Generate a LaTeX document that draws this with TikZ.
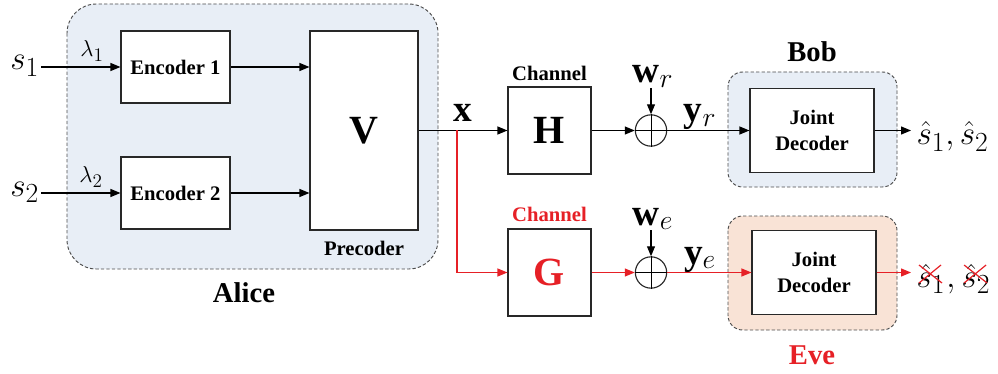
\documentclass[tikz,border=0pt]{standalone}
\usepackage{fontspec}
\setmainfont{Liberation Serif}[BoldFont={Liberation Serif Bold}]
\usetikzlibrary{arrows.meta,calc}
\definecolor{evered}{RGB}{230,32,38}
\definecolor{alicebg}{RGB}{232,238,246}
\definecolor{evebg}{RGB}{249,227,214}
\definecolor{edge}{RGB}{40,40,40}

\begin{document}
\begin{tikzpicture}[x=0.75pt,y=-0.75pt,
  >={Triangle[length=7.5pt,width=6pt]},
  line width=0.9pt,
  blk/.style={draw=edge, fill=white, inner sep=0pt, line width=0.85pt},
  group/.style={draw=black!70, line width=0.7pt, dash pattern=on 2.5pt off 1.6pt},
  lbl/.style={font=\bfseries\fontsize{15.5}{19.5}\selectfont},
  big/.style={font=\bfseries\fontsize{21.5}{24}\selectfont},
  huge/.style={font=\bfseries\fontsize{30}{32}\selectfont},
  mth/.style={font=\fontsize{28}{30}\selectfont, inner sep=1pt},
  sml/.style={font=\fontsize{19}{21}\selectfont, inner sep=1pt},
  adder/.style={circle, draw=edge, fill=white, minimum size=23.5pt, inner sep=0pt, line width=0.85pt},
  evearrow/.style={->, draw=evered}
]
\useasboundingbox (0,0) rectangle (998,374);

% party regions
\draw[group, fill=alicebg, rounded corners=22pt] (67,4) rectangle (438,269);
\draw[group, fill=alicebg, rounded corners=11pt] (728,72) rectangle (897,187);
\draw[group, fill=evebg, rounded corners=11pt] (728,216) rectangle (897,330);

% Alice: encoders and precoder
\node[blk, lbl, minimum width=81.75pt, minimum height=54pt] (enc1) at (175.5,67) {Encoder 1};
\node[blk, lbl, minimum width=81.75pt, minimum height=54pt] (enc2) at (175.5,193) {Encoder 2};
\node[blk, huge, minimum width=81pt, minimum height=149.25pt] (prec) at (364,130.5) {V};
\node[lbl] (preclbl) at (364,248) {Precoder};
\node[big] (alice) at (244,293) {Alice};

\node[mth, anchor=base east] (s1) at (41,70) {$s_1$};
\node[mth, anchor=base east] (s2) at (41,196) {$s_2$};
\node[sml] (lam1) at (92,51) {$\lambda_1$};
\node[sml] (lam2) at (91,177) {$\lambda_2$};

\draw[->] (s1.east |- enc1.west) -- (enc1.west);
\draw[->] (s2.east |- enc2.west) -- (enc2.west);
\draw[->] (enc1.east) -- (prec.west |- enc1.east);
\draw[->] (enc2.east) -- (prec.west |- enc2.east);

% channels
\node[blk, huge, minimum width=62.25pt, minimum height=65.25pt] (H) at (549.5,130.5) {H};
\node[blk, huge, text=evered, minimum width=62.25pt, minimum height=65.25pt] (G) at (549.5,272.5) {G};
\node[lbl] (chH) at (549.5,73) {Channel};
\node[lbl, text=evered] (chG) at (549.5,214) {Channel};

\coordinate (br) at (457,130.5);
\node[mth, anchor=base] (x) at (463,122) {$\mathbf{x}$};
\draw[->] (prec.east) -- (H.west);
\draw[evearrow] (br) |- (G.west);

% noise adders
\node[adder] (addR) at (651,130.5) {};
\node[adder] (addE) at (651,272.5) {};
\draw[line width=0.6pt] (addR.north) -- (addR.south) (addR.west) -- (addR.east);
\draw[line width=0.6pt] (addE.north) -- (addE.south) (addE.west) -- (addE.east);
\node[mth, anchor=base] (wr) at (653,83) {$\mathbf{w}_r$};
\node[mth, anchor=base] (we) at (653,225) {$\mathbf{w}_e$};
\draw[->] (addR.north |- 0,88) -- (addR.north);
\draw[->] (addE.north |- 0,230) -- (addE.north);
\draw[->] (H.east) -- (addR.west);
\draw[evearrow] (G.east) -- (addE.west);
\node[mth, anchor=base] (yr) at (700,122) {$\mathbf{y}_r$};
\node[mth, anchor=base] (ye) at (700,264) {$\mathbf{y}_e$};

% receivers
\node[blk, lbl, align=center, minimum width=93pt, minimum height=63pt] (bob) at (812,130.5) {Joint\\Decoder};
\node[blk, lbl, align=center, minimum width=93pt, minimum height=63pt] (eve) at (814,272.5) {Joint\\Decoder};
\node[big] (boblbl) at (812,52) {Bob};
\node[big, text=evered] (evelbl) at (812,355) {Eve};

\draw[->] (addR.east) -- (bob.west);
\draw[evearrow] (addE.east) -- (eve.west);

\node[mth, anchor=base west, inner sep=0pt] (outB) at (916,145) {$\hat{s}_1, \hat{s}_2$};
\node[mth, anchor=base west, inner sep=0pt] (e1) at (916,287) {$\hat{s}_1$};
\node[mth, anchor=base west, inner sep=0pt] (ecomma) at (e1.base east) {$,$};
\node[mth, anchor=base west, inner sep=0pt] (e2) at ($(ecomma.base east)+(5,0)$) {$\hat{s}_2$};
\draw[->] (bob.east) -- ($(outB.west |- bob.east)+(-5,0)$);
\draw[evearrow] (eve.east) -- ($(e1.west |- eve.east)+(-5,0)$);

% crossed-out estimates at Eve
\draw[evered, line width=0.9pt]
  ($(e1.base west)+(3,-22)$) -- ($(e1.base west)+(26,-4)$)
  ($(e1.base west)+(3,-4)$) -- ($(e1.base west)+(25,-22)$);
\draw[evered, line width=0.9pt]
  ($(e2.base west)+(3,-22)$) -- ($(e2.base west)+(26,-4)$)
  ($(e2.base west)+(3,-4)$) -- ($(e2.base west)+(25,-22)$);
\end{tikzpicture}
\end{document}
